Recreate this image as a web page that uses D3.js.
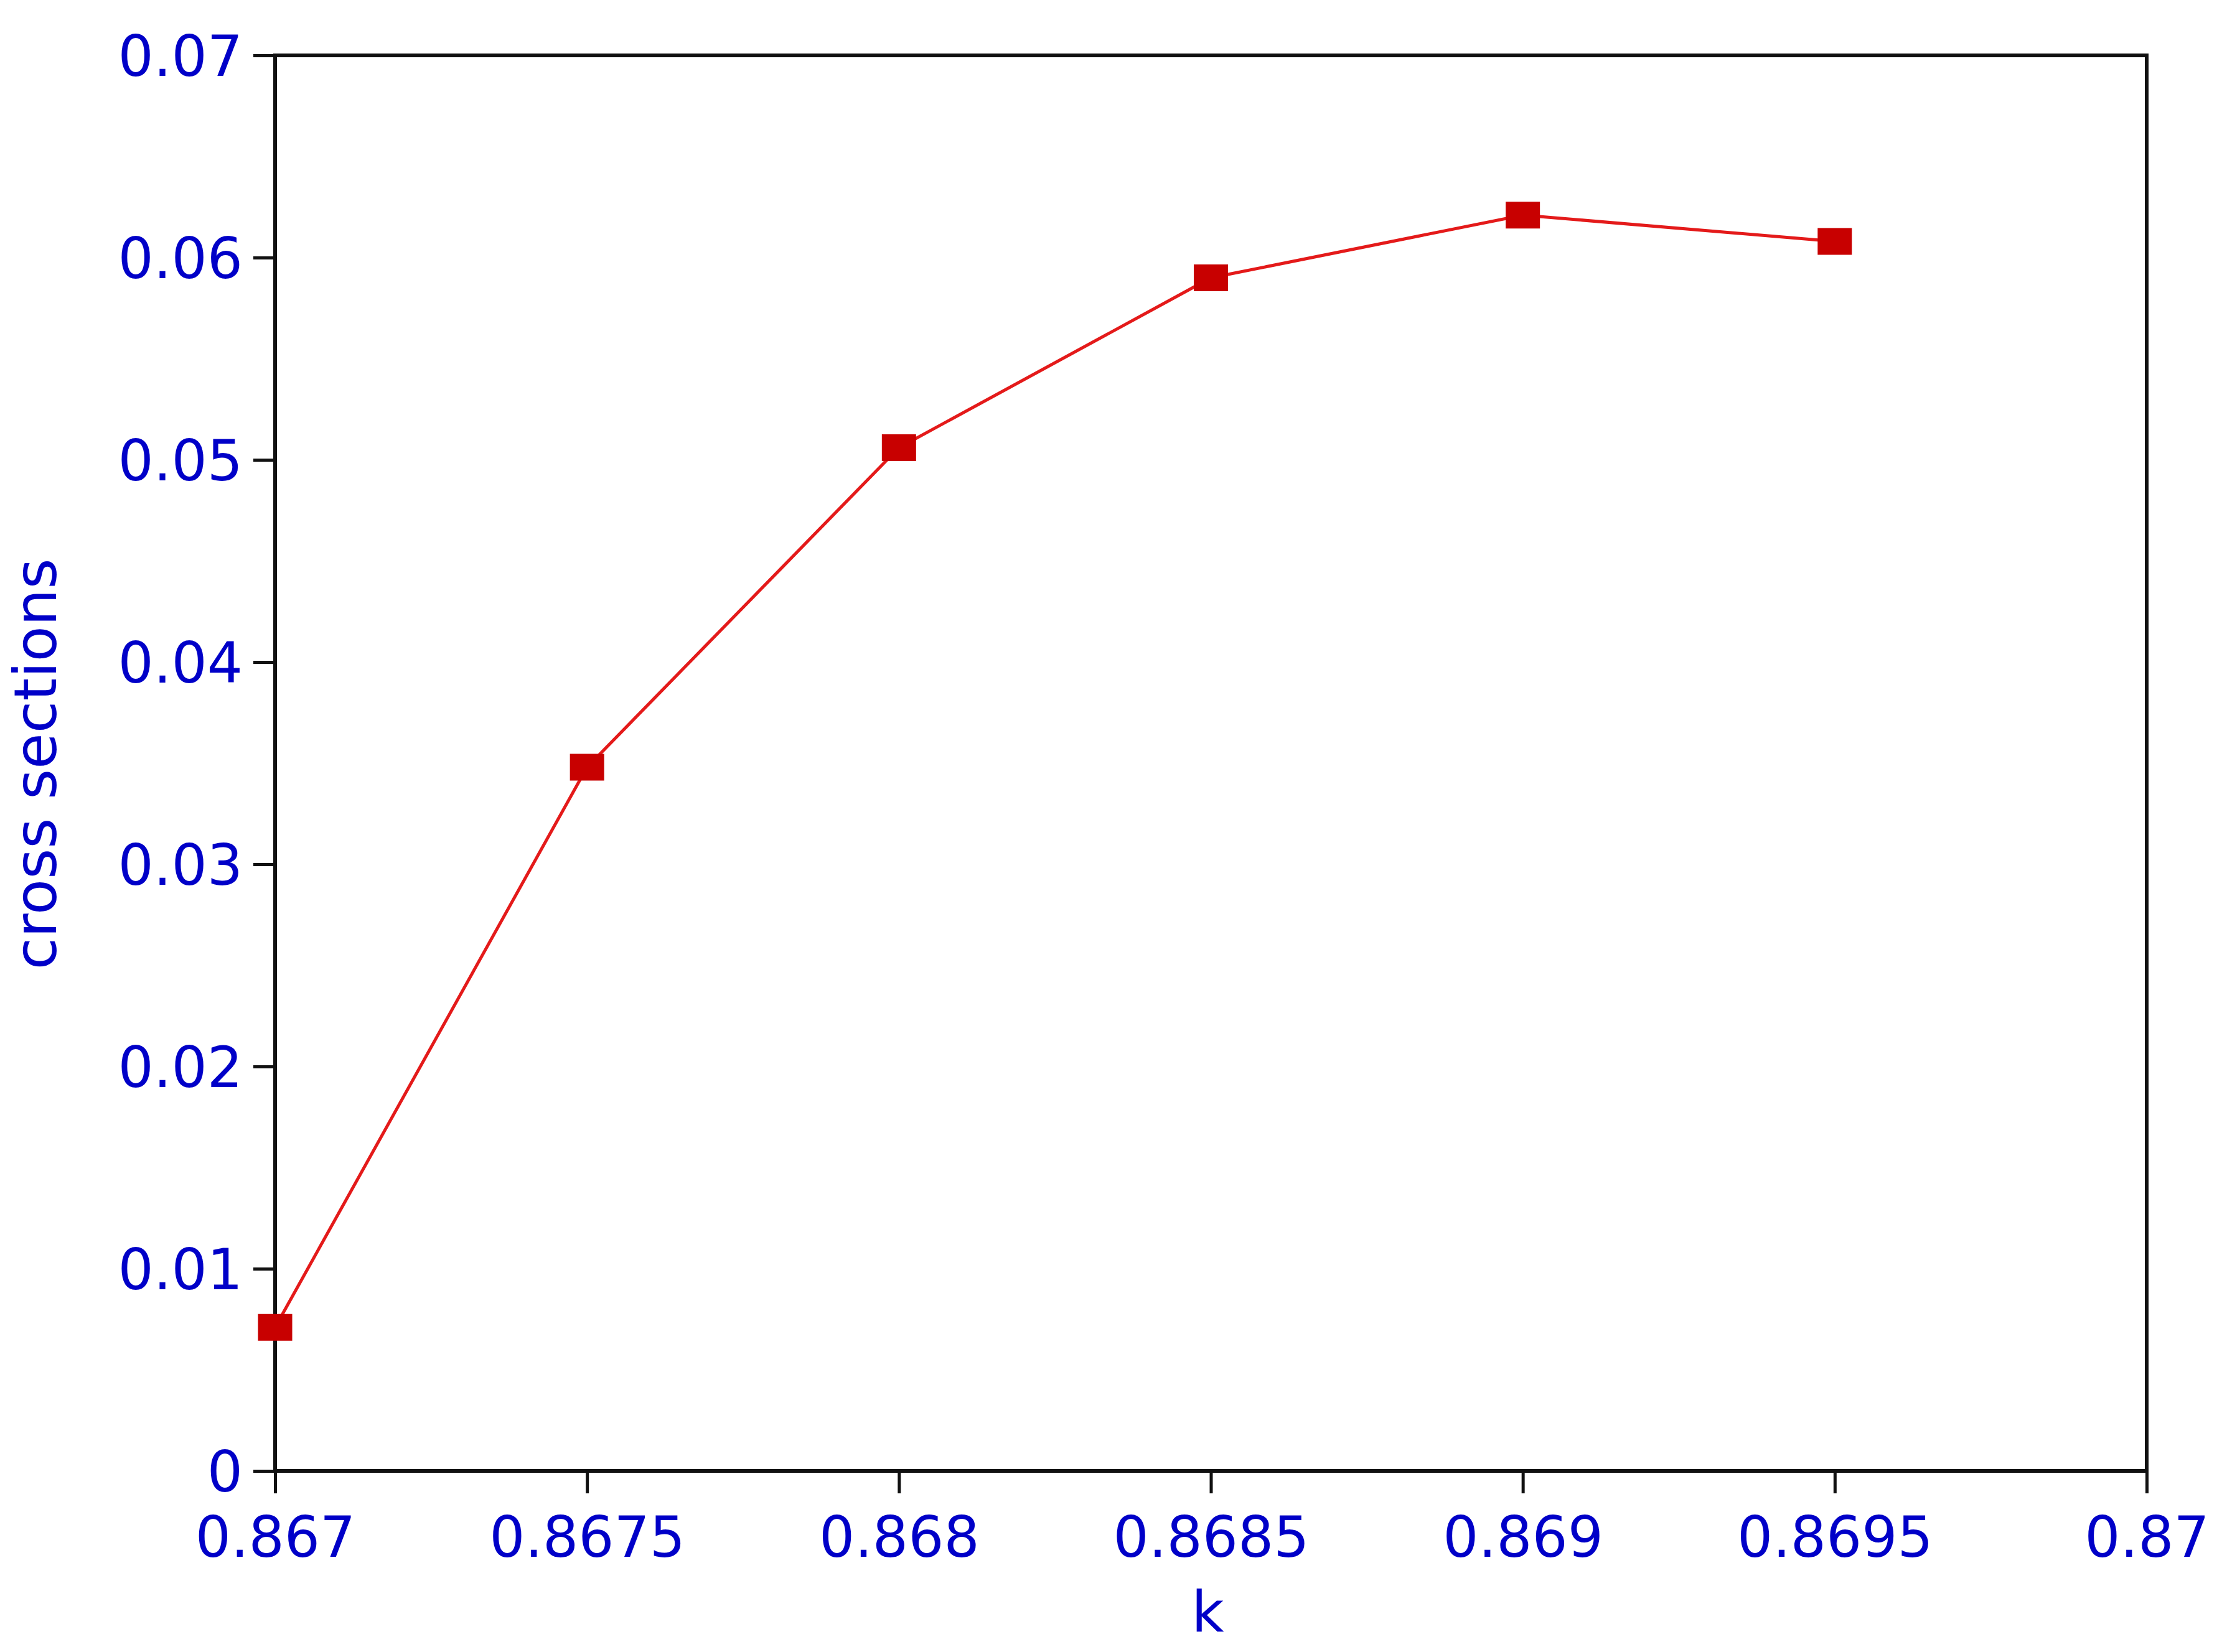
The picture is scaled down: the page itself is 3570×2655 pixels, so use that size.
<!DOCTYPE html>
<html>
<head>
<meta charset="utf-8">
<script src="https://cdn.jsdelivr.net/npm/d3@7"></script>
<style>
  html, body { margin: 0; padding: 0; background: #ffffff; }
  svg { display: block; }
</style>
</head>
<body>
<script>
// ---- data ----
const kValues = [0.867, 0.8675, 0.868, 0.8685, 0.869, 0.8695];
const crossSections = [0.0071, 0.0348, 0.0506, 0.0590, 0.0621, 0.0608];
const xTickValues = [0.867, 0.8675, 0.868, 0.8685, 0.869, 0.8695, 0.87];
const xTickLabels = ["0.867", "0.8675", "0.868", "0.8685", "0.869", "0.8695", "0.87"];
const yTickValues = [0, 0.01, 0.02, 0.03, 0.04, 0.05, 0.06, 0.07];
const yTickLabels = ["0", "0.01", "0.02", "0.03", "0.04", "0.05", "0.06", "0.07"];
const xTitle = "k";
const yTitle = "cross sections";

(function () {
// ---- layout ----
const W = 3570, H = 2655;
const mLeft = 442, mRight = 3449, mTop = 89, mBottom = 2364;
const blue = "#0000c8";
const font = "DejaVu Sans, Verdana, sans-serif";
const fs = 90;

const svg = d3.select("body").append("svg")
  .attr("width", W).attr("height", H)
  .attr("viewBox", `0 0 ${W} ${H}`);
svg.append("rect").attr("width", W).attr("height", H).attr("fill", "#fff");

const x = d3.scaleLinear().domain([0.867, 0.87]).range([mLeft, mRight]);
const y = d3.scaleLinear().domain([0, 0.07]).range([mBottom, mTop]);

// x axis
const xAxis = d3.axisBottom(x)
  .tickValues(xTickValues)
  .tickFormat((d, i) => xTickLabels[i])
  .tickSize(36).tickSizeOuter(0).tickPadding(38);
const gx = svg.append("g").attr("transform", `translate(0,${mBottom})`).call(xAxis);
gx.select(".domain").remove();
gx.selectAll(".tick line").attr("stroke", "#111").attr("stroke-width", 5);
gx.selectAll(".tick text")
  .attr("fill", blue).attr("font-family", font).attr("font-size", fs);

// y axis
const yAxis = d3.axisLeft(y)
  .tickValues(yTickValues)
  .tickFormat((d, i) => yTickLabels[i])
  .tickSize(35).tickSizeOuter(0).tickPadding(17);
const gy = svg.append("g").attr("transform", `translate(${mLeft},0)`).call(yAxis);
gy.select(".domain").remove();
gy.selectAll(".tick line").attr("stroke", "#111").attr("stroke-width", 5);
gy.selectAll(".tick text")
  .attr("fill", blue).attr("font-family", font).attr("font-size", fs)
  .attr("dy", "0.36em");

// frame
svg.append("rect")
  .attr("x", mLeft).attr("y", mTop)
  .attr("width", mRight - mLeft).attr("height", mBottom - mTop)
  .attr("fill", "none").attr("stroke", "#111").attr("stroke-width", 6);

// series
const pts = kValues.map((k, i) => [k, crossSections[i]]);
const line = d3.line().x(d => x(d[0])).y(d => y(d[1]));
svg.append("path")
  .datum(pts)
  .attr("d", line)
  .attr("fill", "none")
  .attr("stroke", "#e41a1a")
  .attr("stroke-width", 5);

const mw = 55, mh = 43;
svg.append("g").selectAll("rect")
  .data(pts).join("rect")
  .attr("x", d => x(d[0]) - mw / 2)
  .attr("y", d => y(d[1]) - mh / 2)
  .attr("width", mw).attr("height", mh)
  .attr("fill", "#c80000");

// titles
svg.append("text")
  .attr("x", (mLeft + mRight) / 2 - 5).attr("y", 2622)
  .attr("text-anchor", "middle")
  .attr("fill", blue).attr("font-family", font).attr("font-size", fs)
  .text(xTitle);

svg.append("text")
  .attr("transform", `translate(90,1228) rotate(-90)`)
  .attr("text-anchor", "middle")
  .attr("fill", blue).attr("font-family", font).attr("font-size", 94)
  .text(yTitle);
})();
</script>
</body>
</html>
